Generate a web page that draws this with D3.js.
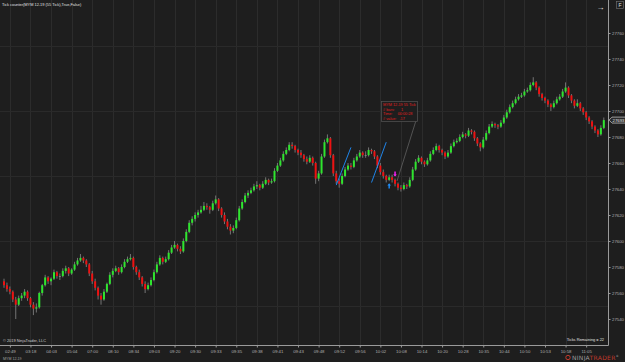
<!DOCTYPE html>
<html>
<head>
<meta charset="utf-8">
<script src="https://cdn.jsdelivr.net/npm/d3@7"></script>
<style>
  html, body { margin: 0; padding: 0; background: #1e1e1e; }
  svg { display: block; font-family: "Liberation Sans", Arial, sans-serif; }
</style>
</head>
<body>
<svg id="chart"></svg>
<script>
// MYM 12-19, 55 tick bars: [open, high, low, close]
const bars = [
  [27569,27571,27564,27566],[27566,27568,27561,27563],[27563,27565,27559,27561],[27561,27562,27553,27555],
  [27555,27557,27540,27551],[27551,27558,27550,27556],[27556,27560,27554,27558],[27558,27563,27556,27561],
  [27561,27562,27554,27556],[27556,27557,27549,27551],[27551,27553,27543,27548],[27548,27552,27545,27549],
  [27549,27561,27548,27560],[27560,27567,27558,27566],[27566,27574,27565,27572],[27572,27573,27567,27569],
  [27569,27572,27566,27571],[27571,27578,27570,27576],[27576,27577,27571,27573],[27573,27575,27570,27573],
  [27573,27579,27572,27577],[27577,27581,27575,27579],[27579,27580,27573,27575],[27575,27579,27574,27578],
  [27578,27584,27577,27582],[27582,27587,27581,27585],[27585,27590,27584,27587],[27587,27588,27583,27585],
  [27585,27586,27580,27582],[27582,27583,27573,27575],[27575,27577,27567,27569],[27569,27571,27562,27564],
  [27564,27565,27555,27558],[27558,27560,27551,27555],[27555,27563,27554,27561],[27561,27568,27560,27567],
  [27567,27576,27566,27574],[27574,27579,27572,27577],[27577,27581,27576,27579],[27579,27580,27574,27576],
  [27576,27582,27575,27580],[27580,27586,27579,27584],[27584,27588,27583,27586],[27586,27590,27585,27587],
  [27587,27588,27578,27580],[27580,27581,27574,27576],[27576,27578,27570,27572],[27572,27573,27565,27567],
  [27567,27569,27560,27563],[27563,27568,27562,27566],[27566,27572,27565,27570],[27570,27578,27569,27576],
  [27576,27584,27575,27582],[27582,27589,27581,27587],[27587,27588,27582,27584],[27584,27588,27583,27586],
  [27586,27593,27585,27591],[27591,27597,27590,27595],[27595,27600,27594,27597],[27597,27598,27592,27594],
  [27594,27596,27590,27592],[27592,27602,27591,27600],[27600,27609,27599,27607],[27607,27616,27606,27614],
  [27614,27619,27612,27617],[27617,27622,27615,27620],[27620,27624,27618,27622],[27622,27627,27621,27624],
  [27624,27630,27623,27627],[27627,27629,27624,27626],[27626,27627,27621,27624],[27624,27631,27623,27629],
  [27629,27635,27628,27632],[27632,27633,27623,27625],[27625,27626,27618,27620],[27620,27622,27613,27615],
  [27615,27617,27609,27611],[27611,27613,27605,27608],[27608,27612,27606,27610],[27610,27618,27609,27616],
  [27616,27627,27615,27625],[27625,27632,27624,27630],[27630,27637,27629,27635],[27635,27639,27633,27637],
  [27637,27641,27636,27639],[27639,27644,27638,27642],[27642,27646,27640,27643],[27643,27644,27639,27641],
  [27641,27646,27640,27644],[27644,27649,27643,27647],[27647,27648,27643,27645],[27645,27648,27644,27646],
  [27646,27656,27645,27654],[27654,27660,27653,27658],[27658,27664,27657,27662],[27662,27669,27661,27667],
  [27667,27672,27666,27670],[27670,27676,27669,27674],[27674,27676,27671,27673],[27673,27674,27668,27670],
  [27670,27671,27666,27668],[27668,27670,27664,27666],[27666,27667,27661,27663],[27663,27665,27659,27661],
  [27661,27666,27660,27664],[27664,27665,27658,27660],[27660,27661,27644,27648],[27648,27654,27646,27652],
  [27652,27667,27651,27665],[27665,27678,27664,27676],[27676,27682,27675,27679],[27679,27680,27664,27666],
  [27666,27667,27650,27652],[27652,27654,27644,27646],[27646,27648,27641,27644],[27644,27652,27643,27650],
  [27650,27657,27649,27655],[27655,27660,27654,27658],[27658,27660,27655,27657],[27657,27664,27656,27662],
  [27662,27667,27661,27665],[27665,27670,27664,27668],[27668,27669,27664,27666],[27666,27669,27664,27666],
  [27666,27672,27665,27670],[27670,27671,27667,27669],[27669,27670,27663,27665],[27665,27666,27656,27658],
  [27658,27660,27651,27653],[27653,27655,27648,27650],[27650,27651,27645,27647],[27647,27651,27646,27649],
  [27649,27651,27645,27647],[27647,27648,27642,27644],[27644,27645,27639,27641],[27641,27643,27638,27640],
  [27640,27645,27639,27643],[27643,27644,27640,27642],[27642,27649,27641,27647],[27647,27657,27646,27655],
  [27655,27663,27654,27661],[27661,27666,27660,27664],[27664,27665,27659,27661],[27661,27662,27657,27659],
  [27659,27664,27658,27662],[27662,27669,27661,27667],[27667,27672,27666,27670],[27670,27675,27669,27673],
  [27673,27674,27668,27670],[27670,27671,27666,27668],[27668,27669,27663,27665],[27665,27670,27664,27668],
  [27668,27675,27667,27673],[27673,27678,27672,27676],[27676,27679,27675,27677],[27677,27682,27676,27680],
  [27680,27684,27679,27682],[27682,27683,27679,27681],[27681,27687,27680,27685],[27685,27686,27682,27684],
  [27684,27685,27677,27679],[27679,27680,27673,27675],[27675,27676,27669,27672],[27672,27680,27671,27678],
  [27678,27685,27677,27683],[27683,27690,27682,27688],[27688,27692,27687,27690],[27690,27691,27687,27689],
  [27689,27690,27686,27688],[27688,27693,27687,27691],[27691,27697,27690,27695],[27695,27701,27694,27699],
  [27699,27705,27698,27703],[27703,27708,27702,27706],[27706,27711,27705,27709],[27709,27713,27708,27711],
  [27711,27714,27710,27712],[27712,27717,27711,27715],[27715,27718,27714,27716],[27716,27722,27715,27720],
  [27720,27726,27719,27722],[27722,27723,27716,27718],[27718,27719,27711,27713],[27713,27714,27708,27710],
  [27710,27711,27706,27708],[27708,27709,27703,27705],[27705,27706,27700,27703],[27703,27708,27702,27706],
  [27706,27711,27705,27709],[27709,27713,27708,27711],[27711,27717,27710,27715],[27715,27722,27714,27718],
  [27718,27719,27710,27712],[27712,27713,27706,27708],[27708,27709,27702,27704],[27704,27709,27703,27706],
  [27706,27707,27700,27702],[27702,27703,27697,27699],[27699,27700,27693,27695],[27695,27696,27690,27692],
  [27692,27693,27686,27688],[27688,27689,27683,27685],[27685,27686,27680,27682],[27682,27689,27681,27687],
  [27687,27695,27686,27693]
];

// time labels, one every 7 bars starting at bar 2
const timeLabels = ["02:49","03:18","04:03","05:04","07:00","08:10","08:34","09:03","09:20","09:30",
  "09:33","09:35","09:38","09:41","09:43","09:48","09:52","09:56","10:02","10:08",
  "10:14","10:20","10:28","10:35","10:44","10:50","10:53","10:58","11:05"];
const labelStart = 2;
const labelEvery = 7;

const priceTicks = [27540,27560,27580,27600,27620,27640,27660,27680,27700,27720,27740,27760];
const gridPrices = [27550,27600,27650,27700,27750];

// drawn objects: [barIndex, price] pairs
const trendLines = [
  [[113, 27643], [118, 27672]],
  [[125, 27645], [130, 27676]]
];
const upArrowBar = 131;
const downArrowBar = 133;
const infoLines = ["MYM 12-19 55 Tick", "# bars:      1", "Time:     00:00:28", "# value:   .17"];

const width = 625, height = 362;
const plotRight = 608, plotBottom = 345;

const svg = d3.select("#chart")
  .attr("width", width)
  .attr("height", height);

svg.append("rect")
  .attr("width", width).attr("height", height)
  .attr("fill", "#1e1e1e");

const x = d3.scaleLinear().domain([0, bars.length - 1]).range([4, 603.8]);
const y = d3.scaleLinear().domain([27540, 27760]).range([319, 33]);

// grid
const tickIdx = timeLabels.map((d, i) => labelStart + i * labelEvery);

svg.append("g")
  .selectAll("line")
  .data(tickIdx)
  .join("line")
  .attr("x1", d => Math.round(x(d)) + 0.5)
  .attr("x2", d => Math.round(x(d)) + 0.5)
  .attr("y1", 0)
  .attr("y2", plotBottom)
  .attr("stroke", "#2c2c2c")
  .attr("stroke-width", 1);

svg.append("g")
  .selectAll("line")
  .data(gridPrices)
  .join("line")
  .attr("x1", 0)
  .attr("x2", plotRight)
  .attr("y1", d => Math.round(y(d)) + 0.5)
  .attr("y2", d => Math.round(y(d)) + 0.5)
  .attr("stroke", "#2a2a2a")
  .attr("stroke-width", 1);

// candles
const candle = svg.append("g").attr("class", "candles")
  .selectAll("g")
  .data(bars)
  .join("g");

candle.append("line")
  .attr("x1", (d, i) => x(i))
  .attr("x2", (d, i) => x(i))
  .attr("y1", d => y(d[1]))
  .attr("y2", d => y(d[2]))
  .attr("stroke", "#8a8a8a")
  .attr("stroke-width", 0.8);

candle.append("rect")
  .attr("x", (d, i) => x(i) - 1)
  .attr("width", 2)
  .attr("y", d => y(Math.max(d[0], d[3])))
  .attr("height", d => Math.max(0.8, Math.abs(y(d[0]) - y(d[3]))))
  .attr("fill", d => d[3] > d[0] ? "#2ee62e" : d[3] < d[0] ? "#ee1111" : "#8a8a8a");

// trend lines
svg.append("g")
  .selectAll("line")
  .data(trendLines)
  .join("line")
  .attr("x1", d => x(d[0][0]))
  .attr("y1", d => y(d[0][1]))
  .attr("x2", d => x(d[1][0]))
  .attr("y2", d => y(d[1][1]))
  .attr("stroke", "#1e90ff")
  .attr("stroke-width", 0.9);

// arrows
const ux = x(upArrowBar), uy = y(bars[upArrowBar][2]) + 2;
svg.append("path")
  .attr("d", `M${ux},${uy} l-1.8,2.2 h1.1 v3 h1.4 v-3 h1.1 z`)
  .attr("fill", "#1e90ff");

const dx = x(downArrowBar), dy = y(bars[downArrowBar][1]) - 2;
svg.append("path")
  .attr("d", `M${dx},${dy} l-1.8,-2.2 h1.1 v-3 h1.4 v3 h1.1 z`)
  .attr("fill", "#ff22ff");

// info box with connector
svg.append("line")
  .attr("x1", 416).attr("y1", 120.5)
  .attr("x2", dx + 2).attr("y2", 181)
  .attr("stroke", "#777").attr("stroke-width", 0.6);

svg.append("rect")
  .attr("x", 381.5).attr("y", 101.5)
  .attr("width", 36).attr("height", 20)
  .attr("fill", "#1e1e1e")
  .attr("stroke", "#555").attr("stroke-width", 0.7);

svg.append("g")
  .selectAll("text")
  .data(infoLines)
  .join("text")
  .attr("x", 383)
  .attr("y", (d, i) => 106 + i * 4.6)
  .attr("fill", "#e02020")
  .attr("font-size", 3.8)
  .attr("xml:space", "preserve")
  .text(d => d);

// axes
svg.append("line")
  .attr("x1", plotRight + 0.5).attr("x2", plotRight + 0.5)
  .attr("y1", 0).attr("y2", plotBottom + 0.5)
  .attr("stroke", "#9a9a9a").attr("stroke-width", 1);
svg.append("line")
  .attr("x1", 0).attr("x2", plotRight + 0.5)
  .attr("y1", plotBottom + 0.5).attr("y2", plotBottom + 0.5)
  .attr("stroke", "#9a9a9a").attr("stroke-width", 1);

const yAxis = svg.append("g")
  .attr("transform", `translate(${plotRight + 0.5},0)`)
  .call(d3.axisRight(y).tickValues(priceTicks).tickSize(2).tickPadding(1.5).tickFormat(d3.format("d")));
yAxis.select(".domain").remove();
yAxis.selectAll("line").attr("stroke", "#9a9a9a");
yAxis.selectAll("text").attr("fill", "#b0b0b0").attr("font-size", 4.3)
  .attr("font-family", "'Liberation Sans', Arial, sans-serif");

const xAxis = svg.append("g")
  .attr("transform", `translate(0,${plotBottom + 0.5})`)
  .call(d3.axisBottom(x).tickValues(tickIdx).tickSize(2).tickPadding(2.5)
    .tickFormat((d, i) => timeLabels[i]));
xAxis.select(".domain").remove();
xAxis.selectAll("line").attr("stroke", "#9a9a9a");
xAxis.selectAll("text").attr("fill", "#b0b0b0").attr("font-size", 4.3)
  .attr("font-family", "'Liberation Sans', Arial, sans-serif");

// last price marker
const last = bars[bars.length - 1][3];
const ly = y(last);
svg.append("path")
  .attr("d", `M${plotRight + 1},${ly} l3,-3 h15.5 v6 h-15.5 z`)
  .attr("fill", "#2a2a2a")
  .attr("stroke", "#d0d0d0").attr("stroke-width", 0.7);
svg.append("text")
  .attr("x", plotRight + 4.5).attr("y", ly + 1.5)
  .attr("fill", "#e8e8e8").attr("font-size", 4.3)
  .text(last);

// texts
svg.append("text")
  .attr("x", 2).attr("y", 6)
  .attr("fill", "#e0e0e0").attr("font-size", 3.9)
  .text("Tick counter(MYM 12-19 (55 Tick),True,False)");

svg.append("text")
  .attr("x", 3).attr("y", 342)
  .attr("fill", "#d0d0d0").attr("font-size", 3.9)
  .text("© 2019 NinjaTrader, LLC");

svg.append("text")
  .attr("x", 604).attr("y", 340.5)
  .attr("text-anchor", "end")
  .attr("fill", "#e0e0e0").attr("font-size", 3.9)
  .text("Ticks Remaining = 22");

svg.append("text")
  .attr("x", 3).attr("y", 359.5)
  .attr("fill", "#a0a0a0").attr("font-size", 3.6)
  .text("MYM 12-19");

// top-right controls
svg.append("text")
  .attr("x", 600.5).attr("y", 9.5)
  .attr("text-anchor", "middle")
  .attr("fill", "#e8e8e8").attr("font-size", 8)
  .text("→");
svg.append("rect")
  .attr("x", 616.5).attr("y", 1.5).attr("width", 7).attr("height", 7)
  .attr("fill", "#1e1e1e").attr("stroke", "#777").attr("stroke-width", 0.6);
svg.append("text")
  .attr("x", 620).attr("y", 7)
  .attr("text-anchor", "middle")
  .attr("fill", "#e0e0e0").attr("font-size", 5)
  .text("F");

// logo
const logo = svg.append("g").attr("transform", "translate(566,359.5)");
logo.append("circle").attr("cx", 2).attr("cy", -2).attr("r", 2.2)
  .attr("fill", "none").attr("stroke", "#c0392b").attr("stroke-width", 1);
logo.append("text")
  .attr("x", 6).attr("y", 0)
  .attr("font-size", 6).attr("letter-spacing", 0.3)
  .attr("font-family", "'DejaVu Sans', sans-serif")
  .call(t => {
    t.append("tspan").attr("fill", "#9a9a9a").text("NINJA");
    t.append("tspan").attr("fill", "#c0392b").text("TRADER");
    t.append("tspan").attr("fill", "#9a9a9a").attr("font-size", 3).attr("dy", -2.5).text("®");
  });
</script>
</body>
</html>
